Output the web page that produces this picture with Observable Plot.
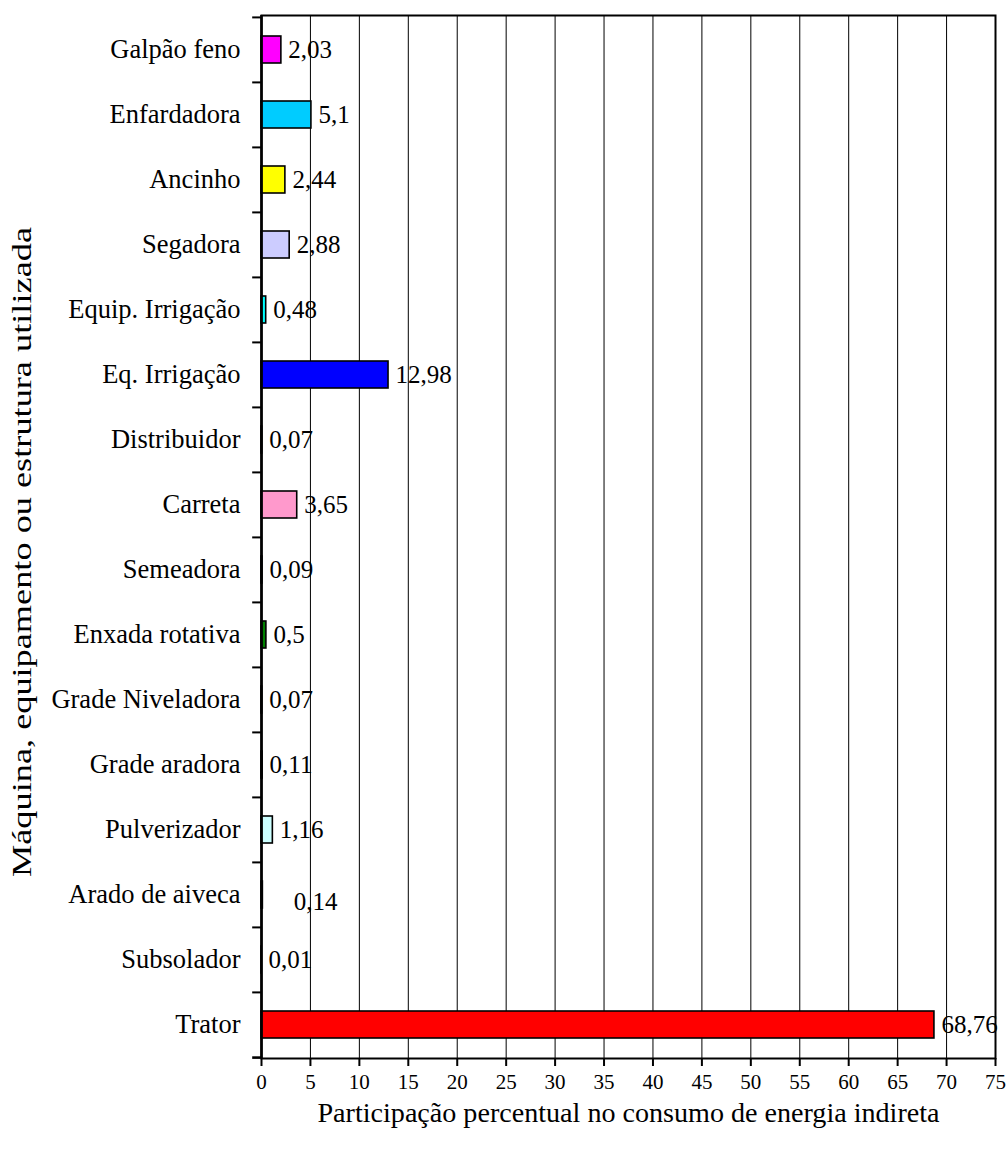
<!DOCTYPE html>
<html>
<head>
<meta charset="utf-8">
<script src="https://cdn.jsdelivr.net/npm/d3@7"></script>
<script src="https://cdn.jsdelivr.net/npm/@observablehq/plot@0.6"></script>
<style>
  html, body { margin: 0; padding: 0; background: #fff; }
  svg { display: block; }
</style>
</head>
<body>
<div id="chart"></div>
<script>
const categories = [
  "Galpão feno", "Enfardadora", "Ancinho", "Segadora", "Equip. Irrigação",
  "Eq. Irrigação", "Distribuidor", "Carreta", "Semeadora", "Enxada rotativa",
  "Grade Niveladora", "Grade aradora", "Pulverizador", "Arado de aiveca",
  "Subsolador", "Trator"
];
const values = [2.03, 5.1, 2.44, 2.88, 0.48, 12.98, 0.07, 3.65, 0.09, 0.5, 0.07, 0.11, 1.16, 0.14, 0.01, 68.76];
const barColors = [
  "#FF00FF", "#00CCFF", "#FFFF00", "#CCCCFF", "#00FFFF",
  "#0000FF", "#FFFFFF", "#FF99CC", "#FFFFFF", "#008000",
  "#FFFFFF", "#FFFFFF", "#CCFFFF", "#000000",
  "#FFFFFF", "#FF0000"
];
const xTicks = d3.range(0, 76, 5);
const xTitle = "Participação percentual no consumo de energia indireta";
const yTitle = "Máquina, equipamento ou estrutura utilizada";

const data = categories.map((c, i) => ({cat: c, value: values[i], label: String(values[i]).replace(".", ",")}));
const shifted = ["Arado de aiveca"];

const W = 1008, H = 1153, mL = 261, mR = 13, mT = 15, mB = 95;
const step = (H - mT - mB) / categories.length;
const font = "'Liberation Serif', 'Times New Roman', serif";

const chart = Plot.plot({
  width: W, height: H,
  marginLeft: mL, marginRight: mR, marginTop: mT, marginBottom: mB,
  style: {fontFamily: font, background: "#fff", color: "#000"},
  x: {domain: [0, 75], ticks: xTicks},
  y: {domain: categories, paddingInner: 0.59, paddingOuter: 0.295},
  color: {domain: categories, range: barColors},
  marks: [
    Plot.gridX(xTicks, {stroke: "#000", strokeOpacity: 1, strokeWidth: 1}),
    Plot.barX(data, {y: "cat", x: "value", fill: "cat", stroke: "#000", strokeWidth: 1.6}),
    Plot.text(data.filter(d => !shifted.includes(d.cat)), {y: "cat", x: "value", text: "label", textAnchor: "start", dx: 7, fontSize: 25, fill: "#000"}),
    Plot.text(data.filter(d => shifted.includes(d.cat)), {y: "cat", x: "value", text: "label", textAnchor: "start", dx: 31, dy: 7, fontSize: 25, fill: "#000"}),
    Plot.frame({stroke: "#000", strokeWidth: 2}),
    Plot.ruleX([0], {stroke: "#000", strokeWidth: 2.6}),
    Plot.ruleY(categories, {y: d => d, dy: -step / 2, x1: -0.9, x2: 0, stroke: "#000", strokeWidth: 2}),
    Plot.ruleY(categories.slice(-1), {y: d => d, dy: step / 2, x1: -0.9, x2: 0, stroke: "#000", strokeWidth: 2.6}),
    Plot.axisY({tickSize: 0, tickPadding: 21, fontSize: 26.5, label: null}),
    Plot.axisX({ticks: xTicks, tickSize: 8, tickPadding: 8, fontSize: 21, label: null, strokeWidth: 2}),
    Plot.text([xTitle], {frameAnchor: "bottom", textAnchor: "middle", lineAnchor: "middle", dy: 55, fontSize: 27, fill: "#000", className: "xtitle"}),
    Plot.text([yTitle], {frameAnchor: "left", textAnchor: "middle", lineAnchor: "middle", dx: -239, dy: 15, rotate: -90, fontSize: 27, fill: "#000", className: "ytitle"})
  ]
});
d3.select(chart).selectAll(".ytitle text")
  .attr("textLength", 650)
  .attr("lengthAdjust", "spacingAndGlyphs");
d3.select(chart).selectAll(".xtitle text")
  .attr("textLength", 622)
  .attr("lengthAdjust", "spacingAndGlyphs");
document.getElementById("chart").appendChild(chart);
</script>
</body>
</html>
